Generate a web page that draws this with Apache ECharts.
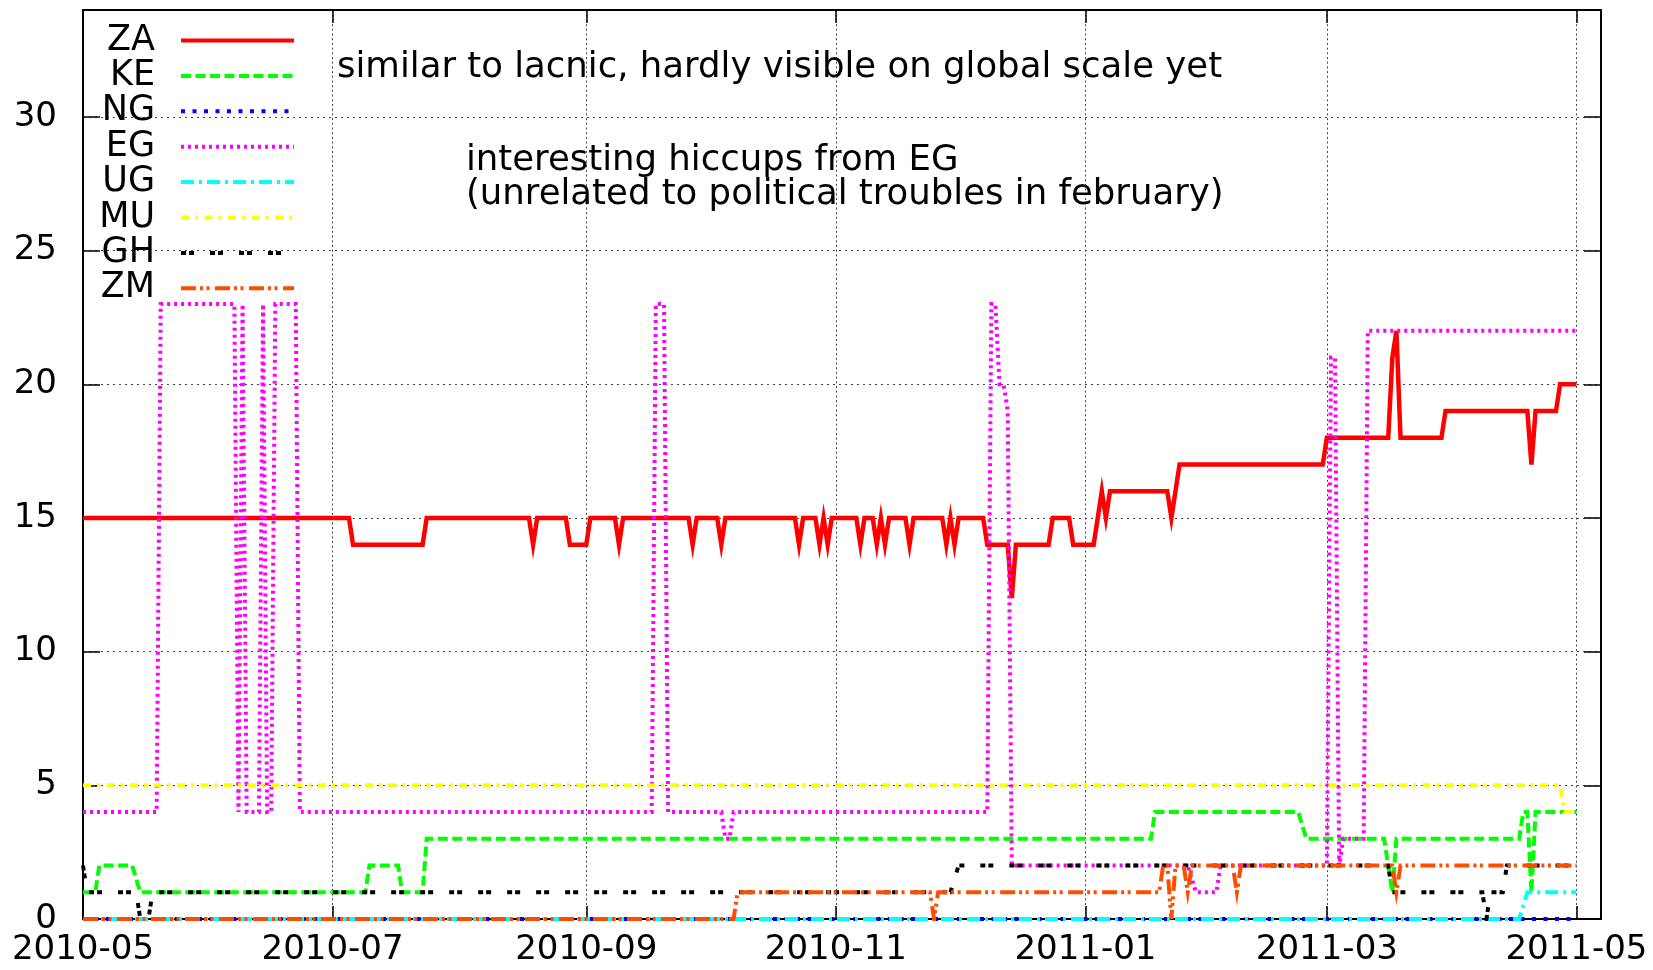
<!DOCTYPE html>
<html><head><meta charset="utf-8">
<script src="https://cdn.jsdelivr.net/npm/echarts@6/dist/echarts.min.js"></script>
<style>html,body{margin:0;padding:0;background:#fff}#c{width:1653px;height:970px}</style>
</head><body><div id="c"></div>
<script>
// ---------------- data ----------------
const seriesNames = ['ZA','KE','NG','EG','UG','MU','GH','ZM'];
const xMin = '2010-05-01', xMax = '2011-05-07';
const yMin = 0, yMax = 34, yStep = 5;

const ZA = [
 ['2010-05-01',15],['2010-07-05',15],['2010-07-06',14],['2010-07-23',14],['2010-07-24',15],
 ['2010-08-18',15],['2010-08-19',14],['2010-08-20',15],['2010-08-27',15],['2010-08-28',14],
 ['2010-09-01',14],['2010-09-02',15],['2010-09-08',15],['2010-09-09',14],['2010-09-10',15],
 ['2010-09-26',15],['2010-09-27',14],['2010-09-28',15],['2010-10-03',15],['2010-10-04',14],
 ['2010-10-05',15],['2010-10-22',15],['2010-10-23',14],['2010-10-24',15],['2010-10-27',15],
 ['2010-10-28',14],['2010-10-29',15],['2010-10-30',14],['2010-10-31',15],['2010-11-06',15],
 ['2010-11-07',14],['2010-11-08',15],['2010-11-10',15],['2010-11-11',14],['2010-11-12',15],
 ['2010-11-13',14],['2010-11-14',15],['2010-11-18',15],['2010-11-19',14],['2010-11-20',15],
 ['2010-11-27',15],['2010-11-28',14],['2010-11-29',15],['2010-11-30',14],['2010-12-01',15],
 ['2010-12-07',15],['2010-12-08',14],['2010-12-13',14],['2010-12-14',12],['2010-12-15',14],
 ['2010-12-23',14],['2010-12-24',15],['2010-12-28',15],['2010-12-29',14],['2011-01-03',14],
 ['2011-01-04',15],['2011-01-05',16],['2011-01-06',15],['2011-01-07',16],['2011-01-21',16],
 ['2011-01-22',15],['2011-01-24',17],['2011-02-28',17],['2011-03-01',18],['2011-03-16',18],
 ['2011-03-17',21],['2011-03-18',22],['2011-03-19',18],['2011-03-29',18],['2011-03-30',19],
 ['2011-04-19',19],['2011-04-20',17],['2011-04-21',19],['2011-04-26',19],['2011-04-27',20],
 ['2011-05-01',20]
];
const KE = [
 ['2010-05-01',1],['2010-05-04',1],['2010-05-05',2],['2010-05-13',2],['2010-05-15',1],
 ['2010-07-09',1],['2010-07-10',2],['2010-07-17',2],['2010-07-18',1],['2010-07-23',1],
 ['2010-07-24',3],['2011-01-17',3],['2011-01-18',4],['2011-02-22',4],['2011-02-24',3],
 ['2011-03-15',3],['2011-03-17',1],['2011-03-18',3],['2011-04-17',3],['2011-04-18',4],
 ['2011-04-19',4],['2011-04-20',1],['2011-04-21',4],['2011-05-01',4]
];
const NG = [['2010-05-01',0],['2011-05-01',0]];
const EG = [
 ['2010-05-01',4],['2010-05-19',4],['2010-05-20',23],['2010-06-07',23],['2010-06-08',4],
 ['2010-06-09',23],['2010-06-10',4],['2010-06-13',4],['2010-06-14',23],['2010-06-15',4],
 ['2010-06-16',4],['2010-06-17',23],['2010-06-22',23],['2010-06-23',4],['2010-09-17',4],
 ['2010-09-18',23],['2010-09-20',23],['2010-09-21',4],['2010-10-04',4],['2010-10-05',3],
 ['2010-10-06',3],['2010-10-07',4],['2010-12-08',4],['2010-12-09',23],['2010-12-10',23],
 ['2010-12-11',20],['2010-12-12',20],['2010-12-13',19],['2010-12-14',2],['2011-01-26',2],
 ['2011-01-28',1],['2011-02-02',1],['2011-02-03',2],['2011-03-01',2],['2011-03-02',21],
 ['2011-03-03',21],['2011-03-04',2],['2011-03-05',3],['2011-03-10',3],['2011-03-11',22],
 ['2011-05-01',22]
];
const UG = [['2010-05-01',0],['2011-04-17',0],['2011-04-19',1],['2011-05-01',1]];
const MU = [['2010-05-01',5],['2011-04-27',5],['2011-04-28',4],['2011-05-01',4]];
const GH = [
 ['2010-05-01',2],['2010-05-02',1],['2010-05-14',1],['2010-05-15',0],['2010-05-17',0],
 ['2010-05-18',1],['2010-11-29',1],['2010-12-01',2],['2011-03-16',2],['2011-03-17',1],
 ['2011-04-08',1],['2011-04-09',0],['2011-04-10',1],['2011-04-13',1],['2011-04-14',2],
 ['2011-05-01',2]
];
const ZM = [
 ['2010-05-01',0],['2010-10-07',0],['2010-10-08',1],['2010-11-24',1],['2010-11-25',0],
 ['2010-11-26',1],['2011-01-19',1],['2011-01-20',2],['2011-01-21',2],['2011-01-22',0],
 ['2011-01-23',2],['2011-01-25',2],['2011-01-26',1],['2011-01-27',2],['2011-02-06',2],
 ['2011-02-07',1],['2011-02-08',2],['2011-03-17',2],['2011-03-18',1],['2011-03-19',2],
 ['2011-05-01',2]
];
const annotationTexts = [
 'similar to lacnic, hardly visible on global scale yet',
 'interesting hiccups from EG',
 '(unrelated to political troubles in february)'
];

// ---------------- styles ----------------
const FONT = 'DejaVu Sans';
const styles = {
 ZA: {color:'#ff0000', width:4.5, type:'solid'},
 KE: {color:'#00ff00', width:4, type:[10,4.5]},
 NG: {color:'#0000ff', width:4, type:[4,7.5]},
 EG: {color:'#ff00ff', width:4, type:[3,4]},
 UG: {color:'#00ffff', width:4, type:[13,5,3,5]},
 MU: {color:'#ffff00', width:4, type:[8,6,3,6.5]},
 GH: {color:'#000000', width:4, type:[5,3,5,16]},
 ZM: {color:'#ff4d00', width:4, type:[15,4,3,3.5,3,5.5]}
};
const dataMap = {ZA, KE, NG, EG, UG, MU, GH, ZM};
const annotationPos = [[337,68],[466,161],[466,195]];

function monthLabel(v){
  const d = new Date(v);
  if (d.getDate() !== 1) return '';
  return d.getFullYear() + '-' + String(d.getMonth()+1).padStart(2,'0');
}
const axisLine = {show:true, onZero:false, lineStyle:{color:'#000', width:2}};
const chart = echarts.init(document.getElementById('c'));
chart.setOption({
  animation:false,
  backgroundColor:'#fff',
  textStyle:{fontFamily:FONT},
  grid:{left:83, right:52, top:10, bottom:51, containLabel:false},
  xAxis:[
    {type:'time', min:xMin, max:xMax, splitNumber:6, position:'bottom',
     axisLine, axisTick:{show:true, inside:true, length:13, lineStyle:{color:'#000', width:1.5}},
     axisLabel:{formatter:monthLabel, fontSize:34, color:'#000', margin:14, fontFamily:FONT, showMaxLabel:false},
     splitLine:{show:true, lineStyle:{color:'#444', width:1, type:[2,2.7]}},
     minorTick:{show:false}},
    {type:'time', min:xMin, max:xMax, splitNumber:6, position:'top',
     axisLine, axisTick:{show:true, inside:true, length:13, lineStyle:{color:'#000', width:1.5}},
     axisLabel:{show:false}, splitLine:{show:false}}
  ],
  yAxis:[
    {type:'value', min:yMin, max:yMax, interval:yStep, position:'left',
     axisLine, axisTick:{show:true, inside:true, length:17, lineStyle:{color:'#000', width:1.5}},
     axisLabel:{fontSize:34, color:'#000', margin:26, fontFamily:FONT, showMaxLabel:false},
     splitLine:{show:true, lineStyle:{color:'#444', width:1, type:[2,4]}}},
    {type:'value', min:yMin, max:yMax, interval:yStep, position:'right',
     axisLine, axisTick:{show:true, inside:true, length:17, lineStyle:{color:'#000', width:1.5}},
     axisLabel:{show:false}, splitLine:{show:false}}
  ],
  legend:{
    orient:'vertical', left:85, top:23, padding:0, itemGap:0.4,
    align:'right', selectedMode:false,
    itemWidth:113, itemHeight:14,
    data:seriesNames,
    itemStyle:{opacity:0},
    lineStyle:{width:4},
    textStyle:{fontSize:35, fontFamily:FONT, color:'#000', width:70, lineHeight:34, padding:[0,21,0,0]}
  },
  graphic: annotationTexts.map((t,i)=>({
    type:'text', x:annotationPos[i][0], y:annotationPos[i][1], z:100,
    style:{text:t, fontSize:35.5, fontFamily:FONT, fill:'#000', verticalAlign:'middle', align:'left'}
  })),
  series: seriesNames.map(n=>({
    name:n, type:'line', xAxisIndex:0, yAxisIndex:0,
    data:dataMap[n], showSymbol:false, symbol:'none',
    lineStyle:{color:styles[n].color, width:styles[n].width, type:styles[n].type, cap:'butt', join:'miter'},
    itemStyle:{color:styles[n].color},
    emphasis:{disabled:true}
  }))
});
</script></body></html>
